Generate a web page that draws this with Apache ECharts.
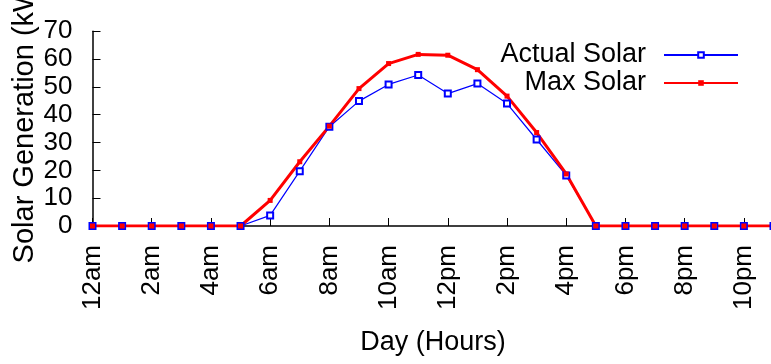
<!DOCTYPE html>
<html>
<head>
<meta charset="utf-8">
<script src="https://cdn.jsdelivr.net/npm/echarts@6/dist/echarts.min.js"></script>
<style>
  html, body { margin: 0; padding: 0; background: #fff; }
  #chart { width: 771px; height: 364px; }
</style>
</head>
<body>
<div id="chart"></div>
<script>
// hours of the day, 12am .. 11pm
const hours = ['12am', '1am', '2am', '3am', '4am', '5am', '6am', '7am', '8am', '9am', '10am', '11am',
  '12pm', '1pm', '2pm', '3pm', '4pm', '5pm', '6pm', '7pm', '8pm', '9pm', '10pm', '11pm']
const actualSolar = [0, 0, 0, 0, 0, 0, 3.8, 19.7, 35.7, 44.9, 50.9, 54.3,
  47.6, 51.2, 44.0, 31.1, 18.2, 0, 0, 0, 0, 0, 0, 0]
const maxSolar = [0, 0, 0, 0, 0, 0, 9.2, 23.1, 35.9, 49.4, 58.4, 61.7,
  61.4, 56.2, 46.7, 33.6, 18.7, 0, 0, 0, 0, 0, 0, 0]

const font = 'Liberation Sans, Arial, Helvetica, sans-serif'
const chart = echarts.init(document.getElementById('chart'))

chart.setOption({
  animation: false,
  backgroundColor: '#fff',
  textStyle: { fontFamily: font, color: '#000' },
  grid: { left: 92.5, right: -2.5, top: 31.3, bottom: 138, containLabel: false, outerBoundsMode: 'none' },
  legend: {
    orient: 'vertical',
    align: 'right',
    right: 32,
    top: 41.5,
    padding: 0,
    itemGap: 1,
    itemWidth: 74,
    itemHeight: 7,
    textStyle: { fontSize: 27, lineHeight: 27, color: '#000', padding: [0, 13, 0, 0] },
    data: ['Actual Solar', 'Max Solar']
  },
  xAxis: {
    type: 'category',
    data: hours,
    boundaryGap: false,
    name: 'Day (Hours)',
    nameLocation: 'middle',
    nameGap: 103,
    nameMoveOverlap: false,
    nameTextStyle: { fontSize: 27, color: '#000' },
    axisLine: { lineStyle: { color: '#000', width: 1.5 } },
    axisTick: { inside: true, length: 8, interval: 1, lineStyle: { color: '#000', width: 1 } },
    axisLabel: { interval: 1, rotate: 90, margin: 19, fontSize: 26, color: '#000' },
    splitLine: { show: false }
  },
  yAxis: {
    type: 'value',
    min: 0,
    max: 70,
    interval: 10,
    name: 'Solar Generation (kW)',
    nameLocation: 'middle',
    nameGap: 53,
    nameMoveOverlap: false,
    nameTextStyle: { fontSize: 29, color: '#000', padding: [0, 0, 0, 19] },
    axisLine: { show: true, lineStyle: { color: '#000', width: 1.5 } },
    axisTick: { show: true, inside: true, length: 8, lineStyle: { color: '#000', width: 1 } },
    axisLabel: { margin: 20, fontSize: 26, color: '#000', showMinLabel: true, showMaxLabel: true },
    splitLine: { show: false }
  },
  series: [
    {
      name: 'Actual Solar',
      type: 'line',
      data: actualSolar,
      color: '#0000ff',
      symbol: 'emptyRect',
      symbolSize: 6,
      showAllSymbol: true,
      lineStyle: { width: 1.2, color: '#0000ff' },
      itemStyle: { color: '#0000ff', borderWidth: 1 }
    },
    {
      name: 'Max Solar',
      type: 'line',
      data: maxSolar,
      z: 3,
      color: '#ff0000',
      symbol: 'rect',
      symbolSize: 5,
      showAllSymbol: true,
      lineStyle: { width: 3, color: '#ff0000' },
      itemStyle: { color: '#ff0000' }
    }
  ]
})
</script>
</body>
</html>
